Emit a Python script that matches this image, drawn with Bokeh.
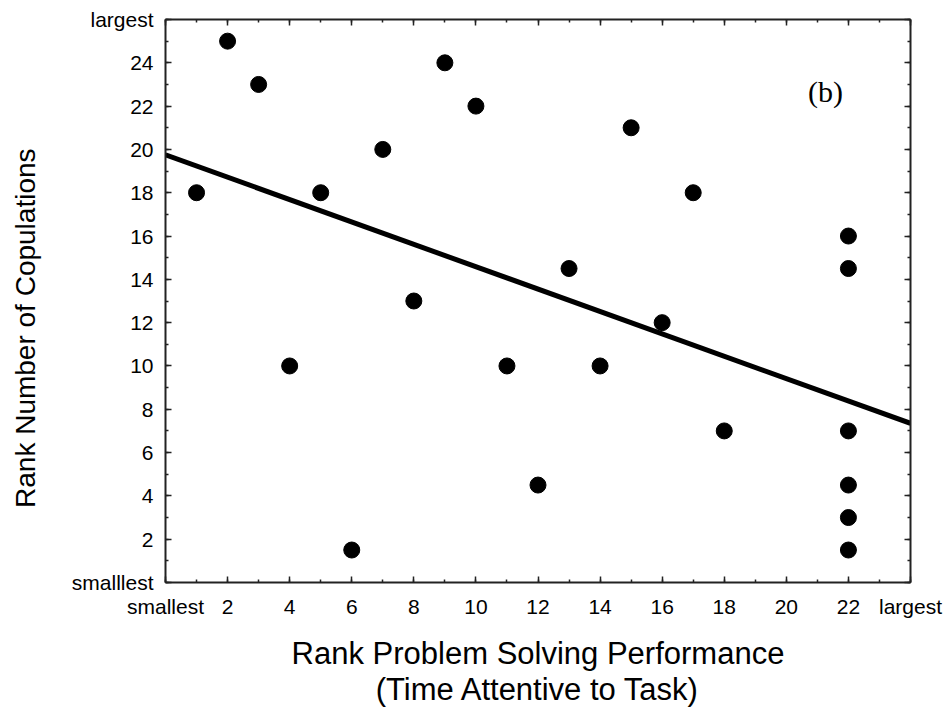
from bokeh.plotting import figure
from bokeh.models import LinearAxis, FixedTicker, Range1d, Label
from bokeh.embed import file_html
from bokeh.resources import INLINE

# Data
perf_rank = [1, 2, 3, 4, 5, 6, 7, 8, 9, 10, 11, 12, 13, 14, 15, 16, 17, 18,
             22, 22, 22, 22, 22, 22]
cop_rank = [18, 25, 23, 10, 18, 1.5, 20, 13, 24, 22, 10, 4.5, 14.5, 10, 21, 12, 18, 7,
            16, 14.5, 7, 4.5, 3, 1.5]
fit_x = [0, 24]
fit_y = [19.75, 7.35]

x_ticks = [0, 2, 4, 6, 8, 10, 12, 14, 16, 18, 20, 22, 24]
x_labels = {0: "smallest", 24: "largest"}
y_ticks = [0, 2, 4, 6, 8, 10, 12, 14, 16, 18, 20, 22, 24, 26]
y_labels = {0: "smalllest", 26: "largest"}
x_minor = list(range(0, 25))
y_minor = list(range(0, 27))

x_title = "Rank Problem Solving Performance\n(Time Attentive to Task)"
y_title = "Rank Number of Copulations"
panel_tag = "(b)"

FONT = "Liberation Sans"

p = figure(frame_width=745, frame_height=563,
           min_border_left=165, min_border_top=19, min_border_right=36, min_border_bottom=125,
           x_range=Range1d(0, 24), y_range=Range1d(0, 26),
           output_backend="svg", toolbar_location=None,
           x_axis_location=None, y_axis_location=None)
p.xgrid.visible = False
p.ygrid.visible = False
p.outline_line_color = None
p.background_fill_color = "white"


def style_axis(ax, ticks, minor, overrides, show_labels):
    ax.ticker = FixedTicker(ticks=ticks, minor_ticks=minor)
    ax.major_label_overrides = {t: (overrides.get(t, str(t)) if show_labels else "") for t in ticks}
    ax.axis_line_color = "#222222"
    ax.axis_line_width = 2
    ax.major_tick_in = 6
    ax.major_tick_out = 0
    ax.minor_tick_in = 3
    ax.minor_tick_out = 0
    ax.major_tick_line_color = "#222222"
    ax.minor_tick_line_color = "#222222"
    ax.major_tick_line_width = 1.5
    ax.minor_tick_line_width = 1.5
    ax.major_label_text_font = FONT
    ax.major_label_text_font_size = "21px"
    ax.major_label_text_color = "black"
    ax.major_label_standoff = 12 if show_labels else 0
    ax.axis_label_text_font = FONT
    ax.axis_label_text_font_style = "normal"
    ax.axis_label_text_color = "black"


xb = LinearAxis(axis_label=x_title)
style_axis(xb, x_ticks, x_minor, x_labels, True)
xb.axis_label_text_font_size = "31px"
xb.axis_label_text_line_height = 1.03
xb.axis_label_standoff = 15
p.add_layout(xb, "below")

# trailing no-break spaces shift the rotated title slightly downward, as in the original
yl = LinearAxis(axis_label=y_title + "\u00a0" * 7)
style_axis(yl, y_ticks, y_minor, y_labels, True)
yl.axis_label_text_font_size = "28px"
yl.axis_label_standoff = 28
p.add_layout(yl, "left")

xt = LinearAxis()
style_axis(xt, x_ticks, x_minor, x_labels, False)
p.add_layout(xt, "above")

yr = LinearAxis()
style_axis(yr, y_ticks, y_minor, y_labels, False)
p.add_layout(yr, "right")

p.line(fit_x, fit_y, line_color="black", line_width=5)
p.scatter(perf_rank, cop_rank, size=16, fill_color="black", line_color="black")

p.add_layout(Label(x=21.26, y=22.68, text=panel_tag, text_font="Liberation Serif",
                   text_font_size="30px", text_color="black",
                   text_align="center", text_baseline="middle"))

open("out.html", "w").write(file_html(p, INLINE))
